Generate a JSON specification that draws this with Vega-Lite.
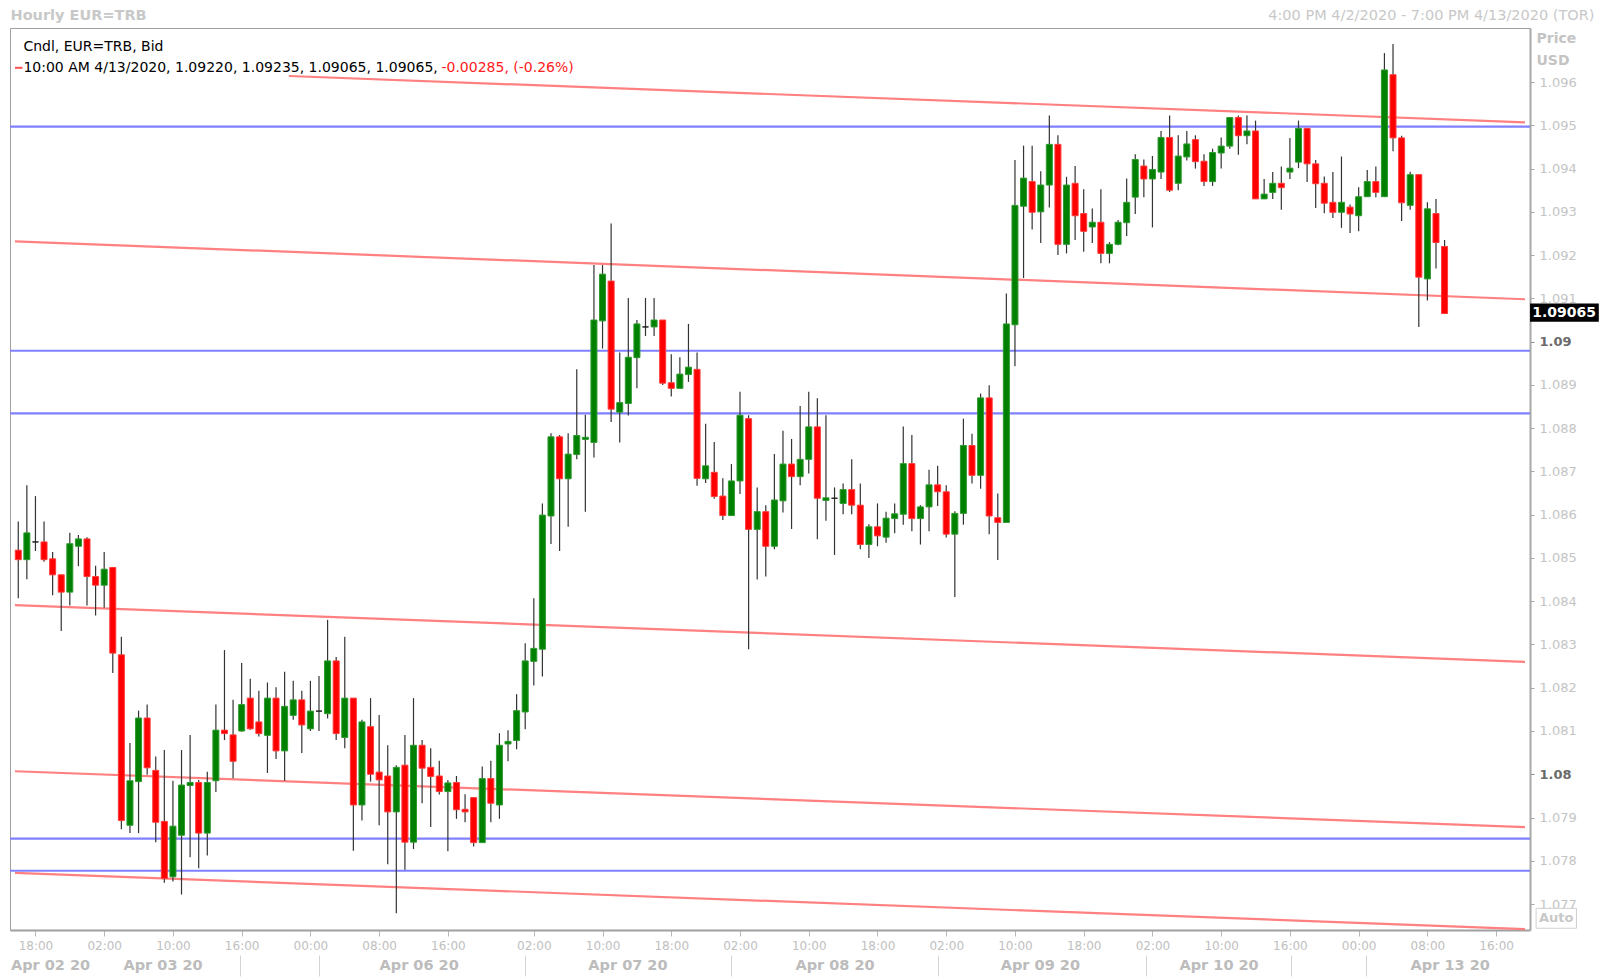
{
  "$schema": "https://vega.github.io/schema/vega-lite/v6.json",
  "width": 1520,
  "height": 902,
  "autosize": {"type": "none"},
  "padding": {"left": 10, "top": 28, "right": 70, "bottom": 48},
  "background": "white",
  "config": {"view": {"stroke": "#a0a0a0", "strokeWidth": 1}, "font": "DejaVu Sans"},
  "datasets": {
    "candles": [
      {"i":0,"o":1.08518,"h":1.08584,"l":1.08407,"c":1.08496},
      {"i":1,"o":1.08496,"h":1.08668,"l":1.08451,"c":1.08558},
      {"i":2,"o":1.08537,"h":1.08643,"l":1.08516,"c":1.08537},
      {"i":3,"o":1.08537,"h":1.08584,"l":1.08491,"c":1.08496},
      {"i":4,"o":1.08498,"h":1.08514,"l":1.08414,"c":1.08461},
      {"i":5,"o":1.08461,"h":1.08461,"l":1.08331,"c":1.08421},
      {"i":6,"o":1.08421,"h":1.08558,"l":1.08390,"c":1.08533},
      {"i":7,"o":1.08527,"h":1.08553,"l":1.08481,"c":1.08544},
      {"i":8,"o":1.08544,"h":1.08548,"l":1.08390,"c":1.08457},
      {"i":9,"o":1.08457,"h":1.08482,"l":1.08367,"c":1.08437},
      {"i":10,"o":1.08437,"h":1.08514,"l":1.08385,"c":1.08474},
      {"i":11,"o":1.08478,"h":1.08478,"l":1.08234,"c":1.08280},
      {"i":12,"o":1.08276,"h":1.08318,"l":1.07873,"c":1.07893},
      {"i":13,"o":1.07882,"h":1.08072,"l":1.07864,"c":1.07985},
      {"i":14,"o":1.07983,"h":1.08147,"l":1.07864,"c":1.08130},
      {"i":15,"o":1.08130,"h":1.08161,"l":1.07999,"c":1.08015},
      {"i":16,"o":1.08009,"h":1.08041,"l":1.07843,"c":1.07889},
      {"i":17,"o":1.07891,"h":1.08056,"l":1.07749,"c":1.07759},
      {"i":18,"o":1.07763,"h":1.07985,"l":1.07752,"c":1.07880},
      {"i":19,"o":1.07859,"h":1.08056,"l":1.07722,"c":1.07975},
      {"i":20,"o":1.07974,"h":1.08091,"l":1.07808,"c":1.07981},
      {"i":21,"o":1.07981,"h":1.07987,"l":1.07783,"c":1.07864},
      {"i":22,"o":1.07864,"h":1.08006,"l":1.07812,"c":1.07981},
      {"i":23,"o":1.07985,"h":1.08161,"l":1.07959,"c":1.08102},
      {"i":24,"o":1.08102,"h":1.08287,"l":1.08079,"c":1.08094},
      {"i":25,"o":1.08091,"h":1.08172,"l":1.07991,"c":1.08030},
      {"i":26,"o":1.08100,"h":1.08257,"l":1.08098,"c":1.08161},
      {"i":27,"o":1.08176,"h":1.08221,"l":1.08103,"c":1.08105},
      {"i":28,"o":1.08121,"h":1.08193,"l":1.08087,"c":1.08094},
      {"i":29,"o":1.08090,"h":1.08212,"l":1.08003,"c":1.08176},
      {"i":30,"o":1.08176,"h":1.08201,"l":1.08035,"c":1.08054},
      {"i":31,"o":1.08054,"h":1.08237,"l":1.07985,"c":1.08157},
      {"i":32,"o":1.08136,"h":1.08216,"l":1.08126,"c":1.08172},
      {"i":33,"o":1.08172,"h":1.08193,"l":1.08049,"c":1.08114},
      {"i":34,"o":1.08105,"h":1.08216,"l":1.08100,"c":1.08146},
      {"i":35,"o":1.08146,"h":1.08227,"l":1.08100,"c":1.08146},
      {"i":36,"o":1.08140,"h":1.08357,"l":1.08129,"c":1.08262},
      {"i":37,"o":1.08262,"h":1.08271,"l":1.08079,"c":1.08094},
      {"i":38,"o":1.08085,"h":1.08318,"l":1.08060,"c":1.08176},
      {"i":39,"o":1.08176,"h":1.08176,"l":1.07823,"c":1.07929},
      {"i":40,"o":1.07929,"h":1.08126,"l":1.07893,"c":1.08121},
      {"i":41,"o":1.08110,"h":1.08176,"l":1.07983,"c":1.08000},
      {"i":42,"o":1.08005,"h":1.08137,"l":1.07882,"c":1.07987},
      {"i":43,"o":1.07996,"h":1.08067,"l":1.07792,"c":1.07913},
      {"i":44,"o":1.07913,"h":1.08021,"l":1.07679,"c":1.08016},
      {"i":45,"o":1.08021,"h":1.08091,"l":1.07779,"c":1.07843},
      {"i":46,"o":1.07843,"h":1.08176,"l":1.07827,"c":1.08067},
      {"i":47,"o":1.08067,"h":1.08079,"l":1.07933,"c":1.08014},
      {"i":48,"o":1.08016,"h":1.08060,"l":1.07878,"c":1.07995},
      {"i":49,"o":1.07996,"h":1.08031,"l":1.07953,"c":1.07960},
      {"i":50,"o":1.07960,"h":1.07987,"l":1.07822,"c":1.07980},
      {"i":51,"o":1.07981,"h":1.07996,"l":1.07897,"c":1.07918},
      {"i":52,"o":1.07919,"h":1.07954,"l":1.07889,"c":1.07913},
      {"i":53,"o":1.07946,"h":1.07946,"l":1.07833,"c":1.07842},
      {"i":54,"o":1.07842,"h":1.08018,"l":1.07842,"c":1.07990},
      {"i":55,"o":1.07990,"h":1.08031,"l":1.07889,"c":1.07933},
      {"i":56,"o":1.07929,"h":1.08095,"l":1.07897,"c":1.08067},
      {"i":57,"o":1.08070,"h":1.08102,"l":1.08030,"c":1.08076},
      {"i":58,"o":1.08078,"h":1.08185,"l":1.08058,"c":1.08147},
      {"i":59,"o":1.08144,"h":1.08303,"l":1.08104,"c":1.08262},
      {"i":60,"o":1.08261,"h":1.08407,"l":1.08205,"c":1.08291},
      {"i":61,"o":1.08289,"h":1.08626,"l":1.08226,"c":1.08599},
      {"i":62,"o":1.08597,"h":1.08788,"l":1.08532,"c":1.08780},
      {"i":63,"o":1.08780,"h":1.08784,"l":1.08516,"c":1.08683},
      {"i":64,"o":1.08683,"h":1.08788,"l":1.08572,"c":1.08740},
      {"i":65,"o":1.08739,"h":1.08936,"l":1.08728,"c":1.08783},
      {"i":66,"o":1.08774,"h":1.08831,"l":1.08607,"c":1.08779},
      {"i":67,"o":1.08767,"h":1.09177,"l":1.08732,"c":1.09050},
      {"i":68,"o":1.09048,"h":1.09177,"l":1.08984,"c":1.09156},
      {"i":69,"o":1.09140,"h":1.09273,"l":1.08814,"c":1.08844},
      {"i":70,"o":1.08837,"h":1.08975,"l":1.08767,"c":1.08859},
      {"i":71,"o":1.08857,"h":1.09101,"l":1.08829,"c":1.08964},
      {"i":72,"o":1.08963,"h":1.09050,"l":1.08892,"c":1.09041},
      {"i":73,"o":1.09034,"h":1.09101,"l":1.09013,"c":1.09034},
      {"i":74,"o":1.09034,"h":1.09101,"l":1.09013,"c":1.09050},
      {"i":75,"o":1.09050,"h":1.09050,"l":1.08900,"c":1.08904},
      {"i":76,"o":1.08905,"h":1.08971,"l":1.08873,"c":1.08892},
      {"i":77,"o":1.08892,"h":1.08964,"l":1.08892,"c":1.08925},
      {"i":78,"o":1.08924,"h":1.09041,"l":1.08907,"c":1.08941},
      {"i":79,"o":1.08936,"h":1.08975,"l":1.08667,"c":1.08684},
      {"i":80,"o":1.08683,"h":1.08810,"l":1.08673,"c":1.08713},
      {"i":81,"o":1.08698,"h":1.08768,"l":1.08637,"c":1.08642},
      {"i":82,"o":1.08643,"h":1.08684,"l":1.08588,"c":1.08598},
      {"i":83,"o":1.08598,"h":1.08717,"l":1.08598,"c":1.08678},
      {"i":84,"o":1.08678,"h":1.08884,"l":1.08648,"c":1.08830},
      {"i":85,"o":1.08822,"h":1.08830,"l":1.08289,"c":1.08566},
      {"i":86,"o":1.08566,"h":1.08663,"l":1.08450,"c":1.08607},
      {"i":87,"o":1.08607,"h":1.08622,"l":1.08457,"c":1.08527},
      {"i":88,"o":1.08527,"h":1.08740,"l":1.08520,"c":1.08634},
      {"i":89,"o":1.08632,"h":1.08794,"l":1.08605,"c":1.08717},
      {"i":90,"o":1.08717,"h":1.08775,"l":1.08567,"c":1.08688},
      {"i":91,"o":1.08688,"h":1.08851,"l":1.08668,"c":1.08728},
      {"i":92,"o":1.08728,"h":1.08884,"l":1.08695,"c":1.08803},
      {"i":93,"o":1.08803,"h":1.08869,"l":1.08543,"c":1.08638},
      {"i":94,"o":1.08633,"h":1.08830,"l":1.08586,"c":1.08639},
      {"i":95,"o":1.08638,"h":1.08663,"l":1.08507,"c":1.08638},
      {"i":96,"o":1.08626,"h":1.08672,"l":1.08601,"c":1.08658},
      {"i":97,"o":1.08658,"h":1.08728,"l":1.08601,"c":1.08622},
      {"i":98,"o":1.08622,"h":1.08672,"l":1.08520,"c":1.08531},
      {"i":99,"o":1.08531,"h":1.08578,"l":1.08500,"c":1.08572},
      {"i":100,"o":1.08572,"h":1.08626,"l":1.08527,"c":1.08551},
      {"i":101,"o":1.08548,"h":1.08607,"l":1.08535,"c":1.08592},
      {"i":102,"o":1.08591,"h":1.08626,"l":1.08557,"c":1.08602},
      {"i":103,"o":1.08601,"h":1.08804,"l":1.08577,"c":1.08718},
      {"i":104,"o":1.08718,"h":1.08784,"l":1.08562,"c":1.08591},
      {"i":105,"o":1.08591,"h":1.08622,"l":1.08531,"c":1.08618},
      {"i":106,"o":1.08618,"h":1.08704,"l":1.08562,"c":1.08669},
      {"i":107,"o":1.08669,"h":1.08713,"l":1.08620,"c":1.08653},
      {"i":108,"o":1.08653,"h":1.08668,"l":1.08547,"c":1.08555},
      {"i":109,"o":1.08555,"h":1.08608,"l":1.08410,"c":1.08603},
      {"i":110,"o":1.08603,"h":1.08822,"l":1.08577,"c":1.08760},
      {"i":111,"o":1.08760,"h":1.08787,"l":1.08672,"c":1.08691},
      {"i":112,"o":1.08691,"h":1.08880,"l":1.08660,"c":1.08870},
      {"i":113,"o":1.08870,"h":1.08899,"l":1.08555,"c":1.08597},
      {"i":114,"o":1.08593,"h":1.08649,"l":1.08495,"c":1.08582},
      {"i":115,"o":1.08582,"h":1.09111,"l":1.08582,"c":1.09041},
      {"i":116,"o":1.09039,"h":1.09420,"l":1.08943,"c":1.09315},
      {"i":117,"o":1.09313,"h":1.09453,"l":1.09147,"c":1.09378},
      {"i":118,"o":1.09370,"h":1.09453,"l":1.09259,"c":1.09299},
      {"i":119,"o":1.09300,"h":1.09394,"l":1.09228,"c":1.09362},
      {"i":120,"o":1.09362,"h":1.09523,"l":1.09310,"c":1.09456},
      {"i":121,"o":1.09456,"h":1.09477,"l":1.09200,"c":1.09225},
      {"i":122,"o":1.09225,"h":1.09381,"l":1.09204,"c":1.09362},
      {"i":123,"o":1.09366,"h":1.09406,"l":1.09235,"c":1.09291},
      {"i":124,"o":1.09296,"h":1.09352,"l":1.09208,"c":1.09255},
      {"i":125,"o":1.09265,"h":1.09308,"l":1.09228,"c":1.09276},
      {"i":126,"o":1.09276,"h":1.09352,"l":1.09181,"c":1.09204},
      {"i":127,"o":1.09204,"h":1.09230,"l":1.09181,"c":1.09225},
      {"i":128,"o":1.09225,"h":1.09281,"l":1.09223,"c":1.09276},
      {"i":129,"o":1.09275,"h":1.09377,"l":1.09244,"c":1.09322},
      {"i":130,"o":1.09334,"h":1.09433,"l":1.09295,"c":1.09421},
      {"i":131,"o":1.09406,"h":1.09421,"l":1.09334,"c":1.09376},
      {"i":132,"o":1.09376,"h":1.09429,"l":1.09264,"c":1.09398},
      {"i":133,"o":1.09392,"h":1.09487,"l":1.09376,"c":1.09472},
      {"i":134,"o":1.09472,"h":1.09523,"l":1.09346,"c":1.09350},
      {"i":135,"o":1.09366,"h":1.09477,"l":1.09350,"c":1.09429},
      {"i":136,"o":1.09427,"h":1.09487,"l":1.09419,"c":1.09457},
      {"i":137,"o":1.09467,"h":1.09477,"l":1.09400,"c":1.09416},
      {"i":138,"o":1.09417,"h":1.09433,"l":1.09360,"c":1.09370},
      {"i":139,"o":1.09370,"h":1.09446,"l":1.09360,"c":1.09437},
      {"i":140,"o":1.09436,"h":1.09472,"l":1.09400,"c":1.09452},
      {"i":141,"o":1.09452,"h":1.09518,"l":1.09446,"c":1.09518},
      {"i":142,"o":1.09518,"h":1.09523,"l":1.09432,"c":1.09476},
      {"i":143,"o":1.09476,"h":1.09523,"l":1.09456,"c":1.09487},
      {"i":144,"o":1.09487,"h":1.09511,"l":1.09330,"c":1.09330},
      {"i":145,"o":1.09330,"h":1.09376,"l":1.09330,"c":1.09341},
      {"i":146,"o":1.09345,"h":1.09392,"l":1.09330,"c":1.09366},
      {"i":147,"o":1.09366,"h":1.09405,"l":1.09305,"c":1.09356},
      {"i":148,"o":1.09392,"h":1.09471,"l":1.09376,"c":1.09401},
      {"i":149,"o":1.09415,"h":1.09511,"l":1.09401,"c":1.09493},
      {"i":150,"o":1.09493,"h":1.09493,"l":1.09369,"c":1.09411},
      {"i":151,"o":1.09411,"h":1.09420,"l":1.09309,"c":1.09365},
      {"i":152,"o":1.09366,"h":1.09382,"l":1.09297,"c":1.09320},
      {"i":153,"o":1.09322,"h":1.09392,"l":1.09286,"c":1.09299},
      {"i":154,"o":1.09299,"h":1.09428,"l":1.09263,"c":1.09322},
      {"i":155,"o":1.09311,"h":1.09317,"l":1.09251,"c":1.09295},
      {"i":156,"o":1.09291,"h":1.09357,"l":1.09255,"c":1.09335},
      {"i":157,"o":1.09335,"h":1.09397,"l":1.09335,"c":1.09370},
      {"i":158,"o":1.09370,"h":1.09405,"l":1.09334,"c":1.09345},
      {"i":159,"o":1.09335,"h":1.09667,"l":1.09335,"c":1.09628},
      {"i":160,"o":1.09617,"h":1.09688,"l":1.09440,"c":1.09471},
      {"i":161,"o":1.09471,"h":1.09476,"l":1.09279,"c":1.09321},
      {"i":162,"o":1.09315,"h":1.09393,"l":1.09305,"c":1.09386},
      {"i":163,"o":1.09386,"h":1.09386,"l":1.09034,"c":1.09149},
      {"i":164,"o":1.09145,"h":1.09322,"l":1.09095,"c":1.09307},
      {"i":165,"o":1.09296,"h":1.09330,"l":1.09169,"c":1.09229},
      {"i":166,"o":1.09220,"h":1.09235,"l":1.09065,"c":1.09065}
    ],
    "hlines": [{"p": 1.09497}, {"p": 1.08979}, {"p": 1.08834}, {"p": 1.07851}, {"p": 1.07777}],
    "tlines": [
      {"xa": 31.5, "xb": 175.36, "pa": 1.09614, "pb": 1.09507},
      {"xa": -0.38, "xb": 175.36, "pa": 1.09232, "pb": 1.09098},
      {"xa": -0.38, "xb": 175.36, "pa": 1.08391, "pb": 1.08260},
      {"xa": -0.38, "xb": 175.36, "pa": 1.08007, "pb": 1.07878},
      {"xa": -0.38, "xb": 175.36, "pa": 1.07772, "pb": 1.07642}
    ],
    "one": [{"k": 1}]
  },
  "resolve": {"axis": {"x": "independent", "y": "independent"}},
  "layer": [
    {
      "data": {"name": "tlines"},
      "mark": {"type": "rule", "color": "#ff8080", "strokeWidth": 2.2},
      "encoding": {
        "x": {"field": "xa", "type": "quantitative", "axis": {"orient": "top", "title": "4:00 PM 4/2/2020 - 7:00 PM 4/13/2020 (TOR)", "labels": false, "ticks": false, "domain": false, "grid": false, "titleX": 1584, "titleY": -13, "titleAlign": "right", "titleBaseline": "middle", "titleFontSize": 14.5, "titleFontWeight": "normal", "titleColor": "#c8c8c8"}},
        "x2": {"field": "xb"},
        "y": {"field": "pa", "type": "quantitative", "axis": null},
        "y2": {"field": "pb"}
      }
    },
    {
      "data": {"name": "hlines"},
      "mark": {"type": "rule", "color": "#8080ff", "strokeWidth": 2.2},
      "encoding": {
        "y": {"field": "p", "type": "quantitative", "axis": {"orient": "right", "values": [1.08, 1.09], "format": ".2f", "title": "USD", "titleAngle": 0, "titleAlign": "left", "titleBaseline": "middle", "titleX": 6, "titleY": 32, "titleFontSize": 14, "titleFontWeight": "bold", "titleColor": "#c4c4c4", "grid": false, "domain": false, "tickColor": "#8a8a8a", "tickSize": 4, "labelPadding": 5, "labelFontSize": 13, "labelFontWeight": "bold", "labelColor": "#6a6a6a", "labelFlush": false, "labelOverlap": false}}
      }
    },
    {
      "data": {"name": "candles"},
      "mark": {"type": "rule", "color": "#333333", "strokeWidth": 1.2},
      "encoding": {
        "x": {"field": "i", "type": "quantitative", "axis": {"orient": "bottom", "values": [25.8, 35.0, 59.0, 82.9, 107.0, 131.2, 148.1, 156.9], "labels": false, "domain": false, "grid": false, "title": null, "offset": 25, "tickSize": 21, "tickColor": "#d4d4d4", "tickWidth": 1}},
        "y": {"field": "l", "type": "quantitative", "axis": null},
        "y2": {"field": "h"}
      }
    },
    {
      "data": {"name": "candles"},
      "mark": {"type": "bar", "size": 6, "strokeWidth": 1},
      "encoding": {
        "x": {
          "field": "i", "type": "quantitative",
          "scale": {"domain": [-0.38, 175.36], "nice": false, "zero": false},
          "axis": {
            "orient": "bottom", "title": null, "grid": false,
            "values": [2, 10, 18, 26, 34, 42, 50, 60, 68, 76, 84, 92, 100, 108, 116, 124, 132, 140, 148, 156, 164, 172],
            "labelExpr": "['18:00','02:00','10:00','16:00','00:00','08:00','16:00','02:00','10:00','18:00','02:00','10:00','18:00','02:00','10:00','18:00','02:00','10:00','16:00','00:00','08:00','16:00'][indexof([2,10,18,26,34,42,50,60,68,76,84,92,100,108,116,124,132,140,148,156,164,172], datum.value)]",
            "domainColor": "#a0a0a0", "domainWidth": 2,
            "tickColor": "#b8b8b8", "tickSize": 6,
            "labelColor": "#c0c0c0", "labelFontSize": 12, "labelPadding": 9, "labelBaseline": "middle",
            "labelFlush": false, "labelOverlap": false
          }
        },
        "y": {
          "field": "o", "type": "quantitative",
          "scale": {"domain": [1.0764, 1.09725], "nice": false, "zero": false},
          "axis": {
            "orient": "right",
            "values": [1.077, 1.078, 1.079, 1.081, 1.082, 1.083, 1.084, 1.085, 1.086, 1.087, 1.088, 1.089, 1.091, 1.092, 1.093, 1.094, 1.095, 1.096],
            "format": ".3f",
            "title": "Price", "titleAngle": 0, "titleAlign": "left", "titleBaseline": "middle",
            "titleX": 6, "titleY": 10,
            "titleFontSize": 14, "titleFontWeight": "bold", "titleColor": "#c4c4c4",
            "grid": false, "domainColor": "#a8a8a8", "domainWidth": 2,
            "tickColor": "#a8a8a8", "tickSize": 4, "labelPadding": 5, "labelFontSize": 13,
            "labelColor": "#c4c4c4", "labelFlush": false, "labelOverlap": false
          }
        },
        "y2": {"field": "c"},
        "color": {"condition": [{"test": "datum.c > datum.o", "value": "#008000"}, {"test": "datum.c < datum.o", "value": "#ff0000"}], "value": "#222222"},
        "stroke": {"condition": [{"test": "datum.c > datum.o", "value": "#2e9a2e"}, {"test": "datum.c < datum.o", "value": "#ff3a3a"}], "value": "#222222"}
      }
    },
    {
      "data": {"name": "one"},
      "mark": {"type": "text", "align": "left", "baseline": "middle", "fontSize": 14, "color": "#000000"},
      "encoding": {
        "x": {"datum": 0.6, "type": "quantitative", "axis": {"orient": "bottom", "values": [3.7, 16.8, 46.6, 70.9, 95.0, 118.9, 139.7, 166.6], "labelExpr": "['Apr 02 20','Apr 03 20','Apr 06 20','Apr 07 20','Apr 08 20','Apr 09 20','Apr 10 20','Apr 13 20'][indexof([3.7,16.8,46.6,70.9,95,118.9,139.7,166.6], datum.value)]", "ticks": false, "tickSize": 0, "domain": false, "grid": false, "title": null, "labelPadding": 35, "labelBaseline": "middle", "labelFontSize": 14.5, "labelFontWeight": "bold", "labelColor": "#bcbcbc", "labelFlush": false, "labelOverlap": false}},
        "y": {"datum": 1.09682, "type": "quantitative", "axis": null},
        "text": {"value": "Cndl, EUR=TRB, Bid"}
      }
    },
    {
      "data": {"name": "one"},
      "mark": {"type": "text", "align": "left", "baseline": "middle", "fontSize": 14, "color": "#000000"},
      "encoding": {
        "x": {"datum": 0.6, "type": "quantitative", "axis": {"orient": "top", "title": "Hourly EUR=TRB", "labels": false, "ticks": false, "domain": false, "grid": false, "titleX": 0, "titleY": -13, "titleAlign": "left", "titleBaseline": "middle", "titleFontSize": 14.5, "titleFontWeight": "bold", "titleColor": "#c8c8c8"}},
        "y": {"datum": 1.09633, "type": "quantitative", "axis": null},
        "text": {"value": "10:00 AM 4/13/2020, 1.09220, 1.09235, 1.09065, 1.09065,"}
      }
    },
    {
      "data": {"name": "one"},
      "mark": {"type": "text", "align": "left", "baseline": "middle", "fontSize": 14, "color": "#ff2020"},
      "encoding": {
        "x": {"datum": 49.25, "type": "quantitative", "axis": null},
        "y": {"datum": 1.09633, "type": "quantitative", "axis": null},
        "text": {"value": "-0.00285, (-0.26%)"}
      }
    },
    {
      "data": {"name": "one"},
      "mark": {"type": "rule", "color": "#ff5050", "strokeWidth": 2},
      "encoding": {
        "x": {"datum": -0.38, "type": "quantitative", "axis": null},
        "x2": {"datum": 0.5},
        "y": {"datum": 1.09633, "type": "quantitative", "axis": null}
      }
    },
    {
      "data": {"name": "one"},
      "mark": {"type": "rect", "color": "#000000"},
      "encoding": {
        "x": {"datum": 175.95, "type": "quantitative", "axis": null},
        "x2": {"datum": 183.95},
        "y": {"datum": 1.09088, "type": "quantitative", "axis": null},
        "y2": {"datum": 1.09046}
      }
    },
    {
      "data": {"name": "one"},
      "mark": {"type": "text", "align": "left", "baseline": "middle", "fontSize": 14, "fontWeight": "bold", "color": "#ffffff"},
      "encoding": {
        "x": {"datum": 176.2, "type": "quantitative", "axis": null},
        "y": {"datum": 1.09067, "type": "quantitative", "axis": null},
        "text": {"value": "1.09065"}
      }
    },
    {
      "data": {"name": "one"},
      "mark": {"type": "rect", "fillOpacity": 0, "stroke": "#d0d0d0", "strokeWidth": 1},
      "encoding": {
        "x": {"datum": 176.65, "type": "quantitative", "axis": null},
        "x2": {"datum": 181.35},
        "y": {"datum": 1.0769, "type": "quantitative", "axis": null},
        "y2": {"datum": 1.07644}
      }
    },
    {
      "data": {"name": "one"},
      "mark": {"type": "text", "align": "center", "baseline": "middle", "fontSize": 13, "fontWeight": "bold", "color": "#c8c8c8"},
      "encoding": {
        "x": {"datum": 179.0, "type": "quantitative", "axis": null},
        "y": {"datum": 1.07667, "type": "quantitative", "axis": null},
        "text": {"value": "Auto"}
      }
    }
  ]
}
